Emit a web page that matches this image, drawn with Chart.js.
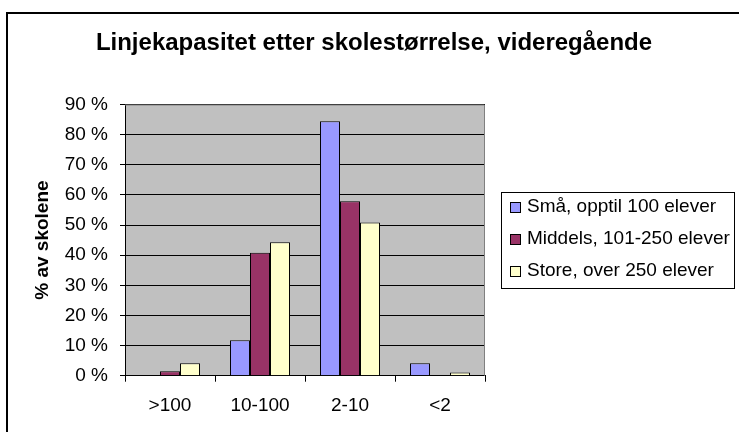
<!DOCTYPE html>
<html>
<head>
<meta charset="utf-8">
<script src="https://cdn.jsdelivr.net/npm/chart.js@4/dist/chart.umd.min.js"></script>
<style>
  html, body { margin: 0; padding: 0; background: #fff; }
  canvas { display: block; }
</style>
</head>
<body>
<canvas id="chart" width="739" height="432"></canvas>
<script>
// data (percent of schools)
const categories = ['>100', '10-100', '2-10', '<2'];
const smaa    = [0, 11.8, 84.4, 4.1];
const middels = [1.5, 40.8, 57.9, 0];
const store   = [4.1, 44.3, 50.8, 1.1];
const seriesNames = ['Små, opptil 100 elever', 'Middels, 101-250 elever', 'Store, over 250 elever'];
const yTicks = [0, 10, 20, 30, 40, 50, 60, 70, 80, 90];
const chartTitle = 'Linjekapasitet etter skolestørrelse, videregående';

const FONT = "'Liberation Sans', Arial, sans-serif";
const colors = ['#9999FF', '#993366', '#FFFFCC'];

// white page, the cut frame of the chart object, the title and the grey plot area
const framePlugin = {
  id: 'frame',
  beforeDraw(chart) {
    const ctx = chart.ctx;
    const a = chart.chartArea;
    ctx.save();
    ctx.fillStyle = '#fff';
    ctx.fillRect(0, 0, chart.width, chart.height);
    ctx.strokeStyle = '#000';
    ctx.lineWidth = 2;
    ctx.beginPath();
    ctx.moveTo(7, chart.height);
    ctx.lineTo(7, 13);
    ctx.lineTo(chart.width, 13);
    ctx.stroke();
    // title centred over the whole chart object
    ctx.fillStyle = '#000';
    ctx.font = 'bold 24px ' + FONT;
    ctx.textAlign = 'center';
    ctx.textBaseline = 'alphabetic';
    ctx.fillText(chartTitle, 374, 50);
    ctx.fillStyle = '#C0C0C0';
    ctx.fillRect(a.left, a.top, a.right - a.left, a.bottom - a.top);
    ctx.restore();
  },
  afterDraw(chart) {
    const ctx = chart.ctx;
    const a = chart.chartArea;
    ctx.save();
    ctx.strokeStyle = '#808080';
    ctx.lineWidth = 1;
    ctx.beginPath();
    ctx.moveTo(a.left, a.top + 0.5);
    ctx.lineTo(a.right - 0.5, a.top + 0.5);
    ctx.lineTo(a.right - 0.5, a.bottom);
    ctx.stroke();
    ctx.restore();
  }
};

// boxed legend on the right, like the spreadsheet one
const boxLegend = {
  id: 'boxLegend',
  afterDraw(chart) {
    const ctx = chart.ctx;
    const x = 501.5, y = 192.5, w = 233, h = 96;
    ctx.save();
    ctx.fillStyle = '#fff';
    ctx.fillRect(x, y, w, h);
    ctx.strokeStyle = '#000';
    ctx.lineWidth = 1;
    ctx.strokeRect(x, y, w, h);
    ctx.font = '19px ' + FONT;
    ctx.textBaseline = 'middle';
    chart.data.datasets.forEach(function(ds, i) {
      const cy = 207 + i * 32;
      ctx.fillStyle = ds.backgroundColor;
      ctx.fillRect(510.5, cy - 4.5, 10, 10);
      ctx.strokeRect(510.5, cy - 4.5, 10, 10);
      ctx.fillStyle = '#000';
      ctx.fillText(ds.label, 527, cy);
    });
    ctx.restore();
  }
};

const datasets = [smaa, middels, store].map(function(vals, i) {
  return {
    label: seriesNames[i],
    data: vals,
    backgroundColor: colors[i],
    borderColor: '#000',
    borderWidth: 1,
    categoryPercentage: 0.667,
    barPercentage: 1
  };
});

new Chart(document.getElementById('chart'), {
  type: 'bar',
  data: { labels: categories, datasets: datasets },
  plugins: [framePlugin, boxLegend],
  options: {
    responsive: false,
    animation: false,
    layout: { padding: { left: 31.6, right: 254, top: 104.5, bottom: 0 } },
    plugins: {
      legend: { display: false },
      tooltip: { enabled: false },
      title: { display: false }
    },
    scales: {
      x: {
        offset: true,
        grid: { offset: true, drawOnChartArea: false, drawTicks: true, tickLength: 6, color: '#000' },
        border: { color: '#000', width: 1 },
        ticks: { color: '#000', font: { family: FONT, size: 19 }, padding: 13, maxRotation: 0 },
        afterFit: function(s) { s.height = 56.3; }
      },
      y: {
        min: 0,
        max: 90,
        afterBuildTicks: function(s) { s.ticks = yTicks.map(function(v) { return { value: v }; }); },
        ticks: {
          color: '#000',
          font: { family: FONT, size: 19 },
          padding: 12,
          callback: function(v) { return v + ' %'; }
        },
        grid: { color: '#000', tickLength: 5, lineWidth: 1 },
        border: { color: '#000', width: 1 },
        title: {
          display: true,
          text: '% av skolene',
          color: '#000',
          font: { family: FONT, size: 19, weight: 'bold' },
          padding: 0
        },
        afterFit: function(s) { s.width = 93.4; }
      }
    }
  }
});
</script>
</body>
</html>
